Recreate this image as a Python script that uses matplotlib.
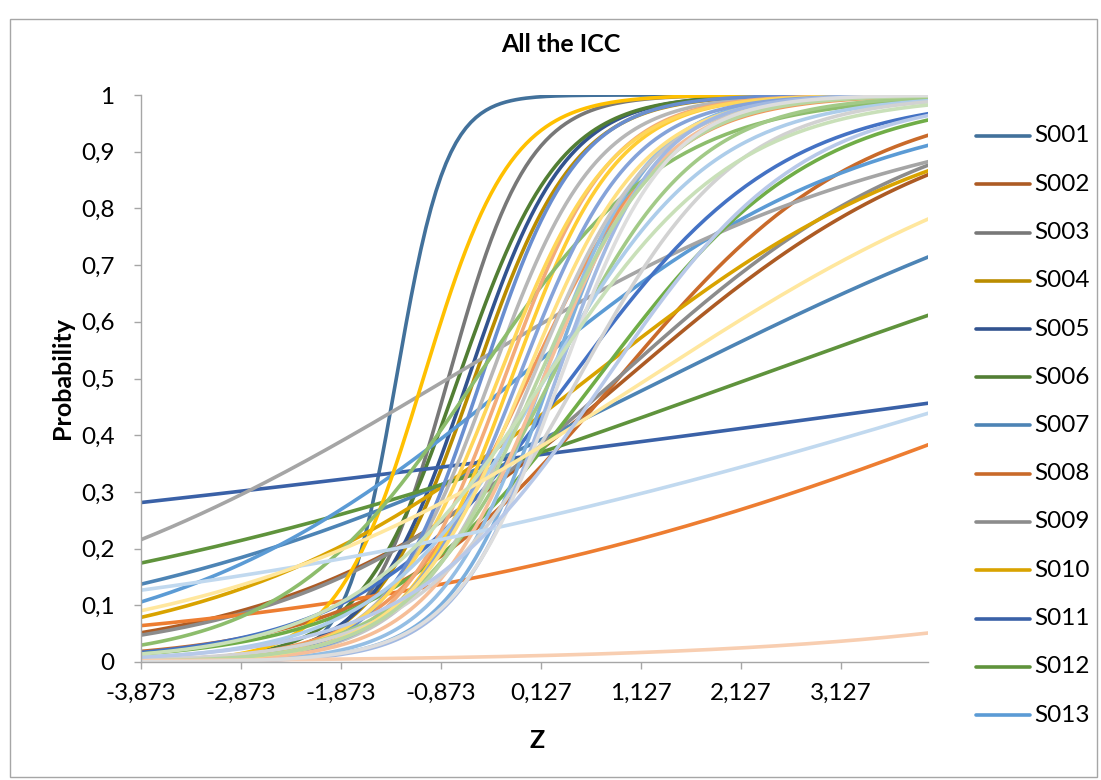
import numpy as np
import matplotlib
matplotlib.use("Agg")
import matplotlib.pyplot as plt
from matplotlib.lines import Line2D
from matplotlib.patches import Rectangle

# ---- data (item parameters) ----
series_names = ["S%03d" % i for i in range(1, 43)]
discrimination = [4.0, 0.60, 2.5, 2.0, 2.08, 2.0,
                  0.35, 0.83, 0.63, 0.55, 0.097, 0.255,
                  0.567, 0.28, 0.42, 2.3, 0.945, 0.93,
                  2.0, 1.5, 1.9, 1.9, 2.1, 1.04,
                  1.9, 1.9, 1.7, 1.8, 1.8, 1.4,
                  1.2, 1.72, 1.26, 1.7, 2.0, 1.6,
                  0.214, 0.40, 1.9, 0.455, 1.02, 1.05]
difficulty = [-1.32, 0.98, -0.80, -0.54, -0.60, -0.70,
              1.38, 0.90, 0.89, 0.60, 5.8, 2.22,
              -0.11, 5.7, -0.80, -1.05, 0.425, 0.69,
              0.22, 0.00, -0.38, -0.17, -0.47, -0.52,
              0.15, -0.24, 0.04, -0.30, -0.10, 0.23,
              0.17, 0.15, 0.50, -0.03, 0.28, 0.10,
              5.15, 11.3, 0.32, 1.20, 0.78, 0.17]
z_values = np.round(np.arange(-3.873, 4.03, 0.05), 3)
x_tick_values = [-3.873, -2.873, -1.873, -0.873, 0.127, 1.127, 2.127, 3.127]
x_tick_labels = ["-3,873", "-2,873", "-1,873", "-0,873", "0,127", "1,127", "2,127", "3,127"]
y_tick_values = [0, 0.1, 0.2, 0.3, 0.4, 0.5, 0.6, 0.7, 0.8, 0.9, 1.0]
y_tick_labels = ["0", "0,1", "0,2", "0,3", "0,4", "0,5", "0,6", "0,7", "0,8", "0,9", "1"]

# ---- colours: Office palette, cycles from darker to lighter ----
base_colors = ["#5B9BD5", "#ED7D31", "#A5A5A5", "#FFC000", "#4472C4", "#70AD47"]
cycle_shades = [-0.27, -0.15, 0.0, 0.2, 0.35, 0.5, 0.62]


def shade(hexcol, f):
    c = np.array([int(hexcol[i:i + 2], 16) for i in (1, 3, 5)]) / 255.0
    if f < 0:
        c = c * (1 + f)
    else:
        c = c + (1 - c) * f
    return tuple(np.clip(c, 0, 1))


colors = [shade(base_colors[i % 6], cycle_shades[i // 6]) for i in range(len(series_names))]

plt.rcParams['font.family'] = ['Lato', 'DejaVu Sans']
W, H = 1101, 780
FS = 17.5
FSB = 18
fig = plt.figure(figsize=(W / 100, H / 100), dpi=100)
fig.patch.set_facecolor('white')

ax = fig.add_axes([141 / W, 1 - 662 / H, (928 - 141) / W, (662 - 95) / H])

for i, name in enumerate(series_names):
    p = 1.0 / (1.0 + np.exp(-discrimination[i] * (z_values - difficulty[i])))
    ax.plot(z_values, p, color=colors[i], lw=2.6, solid_capstyle='round', zorder=2 + i * 0.01)

ax.set_xlim(-3.873, 3.997)
ax.set_ylim(0, 1)
ax.set_xticks(x_tick_values)
ax.set_xticklabels(x_tick_labels)
ax.set_yticks(y_tick_values)
ax.set_yticklabels(y_tick_labels)
for s in ['top', 'right']:
    ax.spines[s].set_visible(False)
for s in ['left', 'bottom']:
    ax.spines[s].set_color('#A6A6A6')
    ax.spines[s].set_linewidth(1.0)
ax.tick_params(axis='both', colors='#A6A6A6', labelcolor='black', labelsize=FS,
               direction='out', length=5, width=1)
ax.tick_params(axis='y', pad=14)
ax.tick_params(axis='x', pad=10)

# texts
fig.text(561 / W, 1 - 45 / H, "All the ICC", ha='center', va='center', fontsize=FSB, fontweight='bold')
fig.text(62 / W, 1 - 378 / H, "Probability", ha='center', va='center', rotation=90,
         fontsize=FSB, fontweight='bold')
fig.text(537 / W, 1 - 740 / H, "Z", ha='center', va='center', fontsize=FSB, fontweight='bold')

# legend (only the first entries fit in the chart area)
for i in range(13):
    y = 1 - (136 + i * 48.25) / H
    fig.add_artist(Line2D([976 / W, 1030 / W], [y, y], transform=fig.transFigure,
                          color=colors[i], lw=2.6, solid_capstyle='round'))
    fig.text(1034 / W, y, series_names[i], ha='left', va='center', fontsize=FS)

# chart border
fig.add_artist(Rectangle((10 / W, 1 - 777 / H), (1097 - 10) / W, (777 - 19) / H,
                         transform=fig.transFigure, fill=False, ec='#A6A6A6', lw=1))

fig.savefig("out.png", dpi=100)
